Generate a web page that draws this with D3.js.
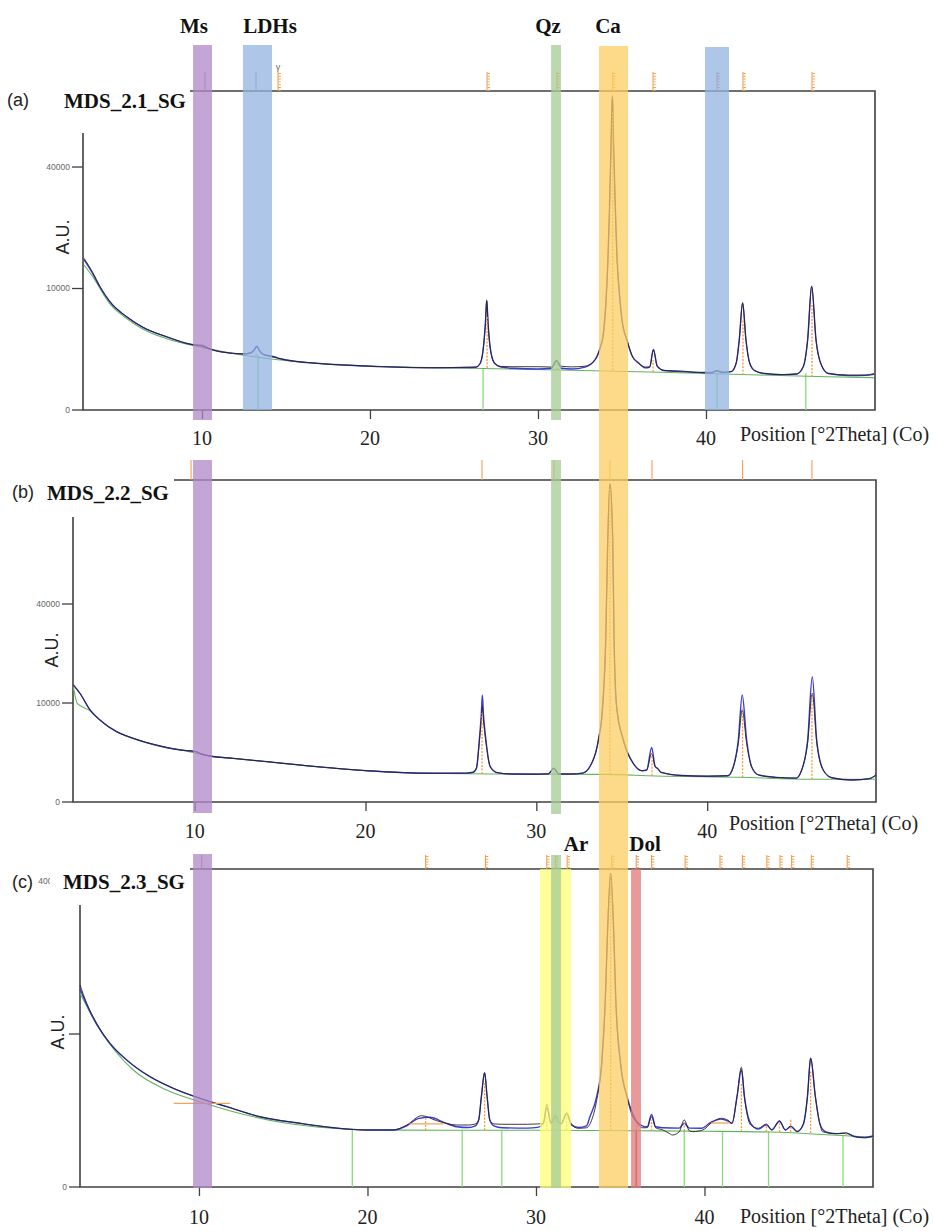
<!DOCTYPE html>
<html lang="en">
<head>
<meta charset="UTF-8">
<title>XRD patterns MDS_2.1_SG, MDS_2.2_SG, MDS_2.3_SG</title>
<script src="https://d3js.org/d3.v7.min.js"></script>
<style>
  body { margin: 0; background: #fff; }
  svg { display: block; }
</style>
</head>
<body>
<div id="chart"></div>
<script>
// ---- data: [2Theta (deg), intensity] ----
const xMajorTicks = [10, 20, 30, 40];
const yTicks = [0, 10000, 40000];
const yLabelsA = ["0", "10000", "40000"];
const yLabelsB = ["0", "10000", "40000"];
const yLabelsC = ["0", "", "40000"];

// phase windows (deg, on the common overlay)
const bandNames = ["Ar", "Ms", "LDHs", "LDHs", "Qz", "Ca", "Dol"];
const bandFrom  = [30.12, 9.47, 12.44, 39.94, 30.78, 33.63, 35.54];
const bandTo    = [31.97, 10.60, 14.17, 41.37, 31.37, 35.36, 36.13];
const labelNames = ["Ms", "LDHs", "Qz", "Ca", "Ar", "Dol"];
const labelAt    = [9.53, 14.05, 30.60, 34.17, 32.27, 36.37];

// (a) MDS_2.1_SG
const obsA = [[2.98,15600],[3.5,12800],[3.93,10350],[4.53,7950],[5.52,5900],[6.51,4630],[7.9,3640],[9.09,3010],[9.6,2850],
  [9.9,2820],[10.1,2740],[10.4,2580],[10.68,2440],[11.87,2175],[12.5,2140],[12.9,2230],[13.1,2450],[13.26,2715],[13.45,2320],
  [13.7,2060],[14.0,1970],[14.3,1880],[14.6,1790],[15.04,1690],[16.83,1475],[19.81,1311],[23.77,1213],[25.76,1237],[26.3,1250],
  [26.55,1460],[26.75,2600],[26.87,5000],[26.95,8050],[27.03,5000],[27.15,2700],[27.4,1520],[27.8,1280],[28.5,1270],[30.0,1270],
  [30.8,1250],[31.1,1648],[31.4,1300],[32.0,1260],[32.8,1300],[33.4,1700],[33.7,2600],[33.9,4000],[34.05,8000],[34.15,14000],
  [34.25,26000],[34.35,47000],[34.43,66000],[34.5,47000],[34.6,28000],[34.7,16000],[34.85,9000],[35.0,5500],[35.3,3300],
  [35.6,2000],[36.0,1450],[36.4,1250],[36.65,1260],[36.87,2440],[37.1,1300],[37.5,1060],[38.5,1030],[39.5,960],[40.3,920],
  [40.64,1030],[41.0,960],[41.5,1000],[41.8,1500],[41.98,3320],[42.18,7710],[42.38,3320],[42.6,1500],[42.9,1050],[43.5,900],
  [44.5,850],[45.4,880],[45.8,1300],[46.05,3320],[46.29,10300],[46.55,3320],[46.9,1300],[47.3,900],[48.5,830],[49.5,830],[50.0,900]];
const calcA = [[2.98,15300],[3.5,12600],[3.93,10250],[4.53,7900],[5.52,5880],[6.51,4600],[7.9,3620],[9.09,3000],[9.6,2860],
  [9.9,2840],[10.1,2780],[10.4,2560],[10.68,2430],[11.87,2170],[12.5,2120],[12.9,2200],[13.1,2420],[13.26,2760],[13.45,2330],
  [13.7,2080],[14.0,1990],[14.3,1920],[14.6,1800],[15.04,1690],[16.83,1470],[19.81,1305],[23.77,1205],[25.76,1220],[26.3,1240],
  [26.55,1450],[26.75,2650],[26.87,5100],[26.95,8200],[27.03,5100],[27.15,2700],[27.4,1500],[27.8,1250],[28.5,1180],[30.0,1140],
  [30.8,1180],[31.1,1648],[31.4,1180],[32.0,1140],[32.8,1250],[33.4,1720],[33.7,2650],[33.9,4050],[34.05,8100],[34.15,14200],
  [34.25,26500],[34.35,48000],[34.43,67000],[34.5,48000],[34.6,28500],[34.7,16200],[34.85,9100],[35.0,5500],[35.3,3300],
  [35.6,2000],[36.0,1500],[36.4,1200],[36.65,1250],[36.87,2480],[37.1,1300],[37.5,1060],[38.5,1000],[39.5,960],[40.3,950],
  [40.64,1050],[41.0,960],[41.5,1000],[41.8,1500],[41.98,3320],[42.18,7800],[42.38,3320],[42.6,1500],[42.9,1050],[43.5,900],
  [44.5,850],[45.4,880],[45.8,1300],[46.05,3320],[46.29,10400],[46.55,3320],[46.9,1300],[47.3,900],[48.5,800],[49.5,810],[50.0,860]];
const bgA = [[2.98,14240],[3.5,12040],[4.5,7710],[5.5,5690],[6.5,4410],[8.0,3390],[10.0,2660],[12.0,2125],[14.0,1785],
  [17.0,1475],[20.0,1311],[25.36,1195],[31.31,1084],[37.27,963],[43.2,830],[47.19,752],[50.0,707]];
// orange reference sticks: [deg, from, to]
const sticksA = [[13.22,2000,2300],[26.97,1195,5900],[31.13,1100,1600],[34.45,1080,60000],[36.85,975,1700],
  [42.2,830,5490],[46.31,740,7710]];
// green peak markers: [deg, intensity at top]
const markersA = [[13.34,2050],[26.73,1195],[40.66,912],[45.94,912]];
// reference lines above the frame: [deg, phase]
const refsA = [[10.18,"Ms"],[13.22,"LDH"],[14.53,"Ca"],[26.97,"Ca"],[31.13,"Qz"],[34.45,"Ca"],[36.85,"Ca"],
  [40.66,"LDH"],[42.2,"Ca"],[46.31,"Ca"]];

// (b) MDS_2.2_SG
const obsB = [[2.9,13970],[3.29,12050],[3.88,8640],[4.46,6860],[5.44,5040],[6.41,4140],[7.97,3200],[9.53,2690],[9.9,2640],
  [10.12,2560],[10.4,2350],[10.9,2160],[12.26,1945],[14.22,1660],[17.14,1275],[20.07,1000],[23.97,840],[25.9,850],[26.3,900],
  [26.5,1200],[26.66,3600],[26.78,7000],[26.84,9270],[26.9,7000],[27.05,3600],[27.3,1270],[27.7,880],[28.5,800],[30.0,790],
  [30.7,810],[31.03,1160],[31.3,800],[32.0,800],[32.7,850],[33.24,1530],[33.63,3920],[33.88,9270],[34.06,26780],[34.18,70030],
  [34.31,103000],[34.47,70030],[34.55,26780],[34.7,9270],[35.09,3920],[35.67,1530],[36.2,1000],[36.46,1045],[36.75,2420],
  [36.95,1300],[37.1,1150],[37.3,900],[38.5,720],[40.0,680],[41.2,700],[41.53,1270],[41.82,3500],[42.05,8640],[42.31,3500],
  [42.6,1270],[43.0,750],[44.0,620],[45.2,580],[45.53,1045],[45.88,3600],[46.15,12050],[46.41,3600],[46.79,1045],[47.3,600],
  [48.5,494],[49.5,560],[49.88,744]];
const calcB = [[2.9,13970],[3.29,12050],[3.88,8640],[4.46,6860],[5.44,5040],[6.41,4140],[7.97,3200],[9.53,2690],[9.9,2640],
  [10.12,2560],[10.4,2350],[10.9,2160],[12.26,1945],[14.22,1660],[17.14,1275],[20.07,1000],[23.97,840],[25.9,850],[26.3,900],
  [26.5,1200],[26.66,3920],[26.78,8000],[26.84,11680],[26.9,8000],[27.05,3920],[27.3,1270],[27.7,880],[28.5,800],[30.0,790],
  [30.7,810],[31.03,1160],[31.3,800],[32.0,800],[32.7,850],[33.24,1530],[33.63,3920],[33.88,9270],[34.06,26780],[34.18,70030],
  [34.31,103600],[34.47,70030],[34.55,26780],[34.7,9270],[35.09,3920],[35.67,1530],[36.2,1000],[36.46,1045],[36.75,3050],
  [36.95,1300],[37.1,1150],[37.3,900],[38.5,720],[40.0,680],[41.2,700],[41.53,1270],[41.82,3920],[42.05,11680],[42.31,3920],
  [42.6,1270],[43.0,750],[44.0,620],[45.2,580],[45.53,1045],[45.88,3920],[46.15,16020],[46.41,3920],[46.79,1045],[47.3,600],
  [48.5,494],[49.5,560],[49.88,744]];
const bgB = [[2.9,13560],[3.13,9940],[3.88,8500],[4.46,6800],[5.44,5000],[6.41,4100],[7.97,3180],[9.53,2640],[10.9,2150],
  [12.26,1935],[14.22,1650],[17.14,1270],[20.07,1000],[23.97,840],[28.0,800],[31.0,790],[34.0,780],[37.0,690],[42.0,622],
  [46.0,526],[49.88,526]];
const sticksB = [[26.82,800,8030],[31.03,790,1100],[34.31,780,100000],[36.77,700,2420],[42.07,622,9270],[46.13,526,12050]];
const markersB = [];
const refsB = [[9.79,"Ca"],[26.82,"Ca"],[31.03,"Qz"],[34.31,"Ca"],[36.77,"Ca"],[42.07,"Ca"],[46.13,"Ca"]];

// (c) MDS_2.3_SG
const obsC = [[2.94,17430],[3.34,14420],[3.93,11450],[4.72,8820],[5.71,6890],[7.09,5200],[8.48,4160],[10.06,3360],[11.65,2755],
  [13.62,2110],[16.0,1733],[17.97,1502],[19.95,1388],[21.53,1388],[22.33,1642],[23.22,2172],[24.11,1878],[25.3,1642],[26.0,1642],
  [26.4,1700],[26.6,1918],[26.76,3485],[26.95,5580],[27.1,3485],[27.26,1918],[27.5,1700],[28.0,1680],[29.5,1680],[30.1,1700],
  [30.44,1733],[30.64,2921],[30.89,1733],[31.0,1918],[31.15,2214],[31.3,1900],[31.5,1760],[31.82,2358],[32.1,1700],[32.5,1472],
  [33.0,1500],[33.3,1900],[33.6,3200],[33.9,6535],[34.12,15470],[34.25,28210],[34.43,42100],[34.61,28210],[34.73,15470],
  [35.02,6535],[35.4,3485],[35.7,2200],[35.95,1822],[36.3,1500],[36.6,1500],[36.86,2111],[37.1,1500],[37.5,1400],[37.9,1231],
  [38.1,1155],[38.5,1300],[38.8,1918],[39.1,1350],[39.3,1310],[39.9,1388],[40.4,1750],[40.97,2016],[41.4,1900],[41.63,1733],
  [41.93,3485],[42.19,6120],[42.37,3485],[42.74,1642],[43.2,1472],[43.67,1695],[44.0,1388],[44.45,1877],[44.8,1388],[45.12,1590],
  [45.5,1310],[45.87,1700],[46.11,3485],[46.3,7075],[46.58,3485],[46.85,1700],[47.0,1310],[47.8,1215],[48.4,1246],[48.9,1087],
  [49.5,1030],[50.0,1110]];
const calcC = [[2.94,16800],[3.34,14200],[3.93,11300],[4.72,8800],[5.71,6890],[7.09,5200],[8.48,4160],[10.06,3360],[11.65,2755],
  [13.62,2110],[16.0,1733],[17.97,1502],[19.95,1388],[21.53,1388],[22.33,1600],[23.0,2000],[23.71,2075],[24.5,1800],[25.3,1553],
  [26.0,1510],[26.4,1600],[26.6,1918],[26.76,3485],[26.95,5580],[27.1,3485],[27.26,1918],[27.5,1600],[28.0,1502],[29.5,1480],
  [30.1,1520],[30.44,1733],[30.64,2700],[30.89,1733],[31.0,1850],[31.15,2150],[31.3,1800],[31.5,1700],[31.82,2300],[32.1,1650],
  [32.5,1520],[33.0,1600],[33.2,2110],[33.6,3485],[33.9,6535],[34.12,15470],[34.25,28210],[34.43,41000],[34.61,28210],
  [34.73,15470],[35.02,6535],[35.4,3485],[35.7,2400],[35.95,1850],[36.3,1600],[36.6,1550],[36.86,2250],[37.1,1550],[37.5,1502],
  [38.5,1480],[38.8,1733],[39.1,1480],[39.8,1472],[40.4,1800],[40.97,1970],[41.4,1850],[41.63,1733],[41.93,3485],[42.19,5870],
  [42.37,3485],[42.74,1733],[43.2,1431],[43.67,1650],[44.0,1400],[44.45,1850],[44.8,1390],[45.12,1560],[45.5,1320],[45.87,1700],
  [46.11,3485],[46.3,7075],[46.58,3485],[46.85,1700],[47.2,1300],[47.8,1215],[48.4,1240],[48.9,1090],[49.5,1050],[50.0,1110]];
const bgC = [[2.94,16020],[4.13,10530],[6.1,5850],[8.08,4020],[10.06,3106],[12.04,2424],[15.0,1766],[17.97,1472],[19.95,1388],
  [25.0,1375],[30.0,1375],[36.0,1350],[40.0,1330],[44.0,1290],[47.0,1180],[50.0,1060]];
const sticksC = [[23.45,1375,2000],[26.95,1375,4590],[30.64,1375,2111],[31.15,1375,1918],[31.82,1375,2200],[34.43,1360,40250],
  [35.95,1350,1733],[36.86,1345,1918],[38.8,1340,1733],[42.19,1320,4590],[43.67,1300,1600],[44.45,1290,1733],[45.12,1280,2016],
  [46.3,1250,5825],[48.4,1150,1246]];
// broad reference peaks drawn as horizontal bars: [from, to, intensity]
const barsC = [[8.5,11.85,2990],[22.5,24.5,1700],[40.4,41.5,1750]];
const markersC = [[19.1,1388],[25.62,1375],[27.97,1375],[38.8,1340],[41.07,1330],[43.8,1300],[48.22,1150]];
const dolLineC = [[35.95,1350]];
const refsC = [[10.16,"Ms"],[23.45,"Ca"],[27.0,"Ca"],[30.64,"Ar"],[31.15,"Qz"],[31.85,"Ar"],[34.49,"Ca"],[35.95,"Dol"],
  [36.86,"Ca"],[38.85,"Ca"],[40.92,"Ca"],[42.25,"Ca"],[43.7,"Ca"],[44.48,"Ca"],[45.17,"Ca"],[46.34,"Ca"],[48.47,"Ca"]];

// ---- styles ----
const serif = "'Liberation Serif', 'DejaVu Serif', serif";
const sans = "'Liberation Sans', Arial, sans-serif";
const bandColor = { Ms: "#af87c8", LDHs: "#93b3e0", Qz: "#a6cb96", Ca: "#fccc63", Ar: "#ffff77", Dol: "#e07878" };
const refColor = { Ms: "#c98266", LDH: "#c08a70", Dol: "#e79a5a" };
const frameColor = "#404040";

const panels = [
  { tag: "(a)", title: "MDS_2.1_SG", left: 83, right: 875, top: 91, bottom: 410, axisTop: 133, lineStart: 190,
    xDomain: [2.92, 50.06], yMax: 68950, tickLabelY: 445, posX: 740, posY: 441, tagX: 7, tagY: 106,
    titleX: 64, titleY: 108, refTop: 72, auX: 63, auY: 237, hatch: true,
    obs: obsA, calc: calcA, bg: bgA, sticks: sticksA, bars: [], markers: markersA, dark: [], refs: refsA, yLabels: yLabelsA },
  { tag: "(b)", title: "MDS_2.2_SG", left: 73, right: 876, top: 480, bottom: 802, axisTop: 517, lineStart: 174,
    xDomain: [2.88, 49.88], yMax: 105800, tickLabelY: 838, posX: 729, posY: 830, tagX: 12, tagY: 498,
    titleX: 47, titleY: 500, refTop: 460, auX: 52, auY: 650, hatch: false,
    obs: obsB, calc: calcB, bg: bgB, sticks: sticksB, bars: [], markers: markersB, dark: [], refs: refsB, yLabels: yLabelsB },
  { tag: "(c)", title: "MDS_2.3_SG", left: 80, right: 873, top: 869, bottom: 1187, axisTop: 905, lineStart: 190,
    xDomain: [2.94, 50.0], yMax: 43200, tickLabelY: 1224, posX: 740, posY: 1223, tagX: 12, tagY: 888,
    titleX: 63, titleY: 889, refTop: 855, auX: 58, auY: 1032, hatch: true,
    obs: obsC, calc: calcC, bg: bgC, sticks: sticksC, bars: barsC, markers: markersC, dark: dolLineC, refs: refsC, yLabels: yLabelsC }
];

// vertical extent of each phase window in every panel (page layout)
const bandSpans = {
  Ms: [[45, 420], [460, 813], [854, 1188]],
  LDHs: [[45, 410]],
  LDHs2: [[47, 410]],
  Qz: [[45, 420], [460, 814], [855, 1188]],
  Ca: [[46, 1188]],
  Ar: [[869, 1188]],
  Dol: [[869, 1188]]
};

const svg = d3.select("#chart").append("svg")
  .attr("width", 934).attr("height", 1231)
  .style("background", "#fff");

// the sample name box hides most of the top y label in (c)
svg.append("defs").append("clipPath").attr("id", "nameclip")
  .append("rect").attr("x", 0).attr("y", 0).attr("width", 50).attr("height", 1231);

const scales = [];

panels.forEach(p => {
  const x = d3.scaleLinear().domain(p.xDomain).range([p.left, p.right]);
  const y = d3.scaleSqrt().domain([0, p.yMax]).range([p.bottom, p.top]);
  scales.push(x);
  const g = svg.append("g");

  // frame
  g.append("path")
    .attr("d", `M${p.lineStart},${p.top}H${p.right}V${p.bottom}H${p.left}V${p.axisTop}`)
    .attr("fill", "none").attr("stroke", frameColor).attr("stroke-width", 1.6);

  // x ticks
  const minor = d3.range(Math.ceil(p.xDomain[0]), Math.floor(p.xDomain[1]) + 1)
    .filter(v => !xMajorTicks.includes(v));
  const gx = g.append("g").attr("transform", `translate(0,${p.bottom})`);
  gx.call(d3.axisBottom(x).tickValues(minor).tickSize(5).tickFormat(""));
  gx.call(d3.axisBottom(x).tickValues(xMajorTicks).tickSize(9).tickFormat(""));
  gx.selectAll(".domain").remove();
  gx.selectAll(".tick line").attr("stroke", frameColor).attr("stroke-width", 1.3);

  g.selectAll(".xlab").data(xMajorTicks).join("text")
    .attr("x", d => x(d)).attr("y", p.tickLabelY)
    .attr("text-anchor", "middle")
    .attr("font-family", serif).attr("font-size", 20).attr("fill", "#222")
    .text(d => d);

  g.append("text")
    .attr("x", p.posX).attr("y", p.posY)
    .attr("font-family", serif).attr("font-size", 20).attr("fill", "#222")
    .text("Position [°2Theta] (Co)");

  // y ticks
  yTicks.forEach((v, i) => {
    const yy = y(v);
    const inside = yy >= p.axisTop;
    if (inside) {
      g.append("line").attr("x1", p.left - 11).attr("x2", p.left)
        .attr("y1", yy).attr("y2", yy)
        .attr("stroke", frameColor).attr("stroke-width", 1.3);
    }
    if (p.yLabels[i]) {
      g.append("text").attr("x", inside ? p.left - 13 : p.titleX - 1).attr("y", yy)
        .attr("dy", "0.35em").attr("text-anchor", "end")
        .attr("clip-path", inside ? null : "url(#nameclip)")
        .attr("font-family", sans).attr("font-size", 8.5).attr("fill", "#666")
        .text(p.yLabels[i]);
    }
  });

  g.append("text")
    .attr("transform", `translate(${p.auX},${p.auY}) rotate(-90)`)
    .attr("text-anchor", "middle").attr("dominant-baseline", "central")
    .attr("font-family", sans).attr("font-size", 18).attr("fill", "#222")
    .text("A.U.");

  // green peak markers
  g.selectAll(".mk").data(p.markers).join("line")
    .attr("x1", d => x(d[0])).attr("x2", d => x(d[0]))
    .attr("y1", d => y(d[1])).attr("y2", p.bottom)
    .attr("stroke", "#86dd78").attr("stroke-width", 1.3);
  g.selectAll(".dk").data(p.dark).join("line")
    .attr("x1", d => x(d[0])).attr("x2", d => x(d[0]))
    .attr("y1", d => y(d[1])).attr("y2", p.bottom)
    .attr("stroke", "#8a4a3c").attr("stroke-width", 1.3);

  // curves: background, calculated profile, measured scan
  const line = d3.line().x(d => x(d[0])).y(d => y(d[1])).curve(d3.curveMonotoneX);
  g.append("path").datum(p.bg).attr("d", line)
    .attr("fill", "none").attr("stroke", "#5fb55a").attr("stroke-width", 1.1);
  g.append("path").datum(p.calc).attr("d", line)
    .attr("fill", "none").attr("stroke", "#3a3ad8").attr("stroke-width", 1.4);
  g.append("path").datum(p.obs).attr("d", line)
    .attr("fill", "none").attr("stroke", "#2a2320").attr("stroke-width", 0.9);

  // reference sticks
  g.selectAll(".st").data(p.sticks).join("line")
    .attr("x1", d => x(d[0])).attr("x2", d => x(d[0]))
    .attr("y1", d => y(d[1])).attr("y2", d => y(d[2]))
    .attr("stroke", "#f39a3a").attr("stroke-width", 1.3)
    .attr("stroke-dasharray", "2,1.5");
  g.selectAll(".br").data(p.bars).join("line")
    .attr("x1", d => x(d[0])).attr("x2", d => x(d[1]))
    .attr("y1", d => y(d[2])).attr("y2", d => y(d[2]))
    .attr("stroke", "#f3a454").attr("stroke-width", 1.3);

  // reference lines above the frame
  const refs = g.selectAll(".rf").data(p.refs).join("g");
  refs.append("line")
    .attr("x1", d => x(d[0])).attr("x2", d => x(d[0]))
    .attr("y1", p.refTop).attr("y2", p.top)
    .attr("stroke", d => refColor[d[1]] || "#f2a04c").attr("stroke-width", 1.1);
  if (p.hatch) {
    refs.filter(d => d[1] !== "Ms" && !(d[1] === "LDH" && d[0] < 14))
      .append("line")
      .attr("x1", d => x(d[0]) + 1.6).attr("x2", d => x(d[0]) + 1.6)
      .attr("y1", p.refTop + 1).attr("y2", p.top)
      .attr("stroke", d => refColor[d[1]] || "#f2a04c").attr("stroke-width", 2.4)
      .attr("stroke-dasharray", "0.9,1.9");
  }

  // sample tag and name
  g.append("rect").attr("x", p.titleX - 12).attr("y", p.titleY - 17)
    .attr("width", p.lineStart - p.titleX + 10).attr("height", 26).attr("fill", "#fff");
  g.append("text").attr("x", p.tagX).attr("y", p.tagY)
    .attr("font-family", sans).attr("font-size", 18).attr("fill", "#222")
    .text(p.tag);
  g.append("text").attr("x", p.titleX).attr("y", p.titleY)
    .attr("font-family", serif).attr("font-weight", "bold").attr("font-size", 21).attr("fill", "#111")
    .text(p.title);
});

// small gamma mark above the 14.5 deg reference line of (a)
svg.append("text")
  .attr("x", scales[0](14.53)).attr("y", 70)
  .attr("text-anchor", "middle")
  .attr("font-family", sans).attr("font-size", 9).attr("fill", "#666")
  .text("γ");

// phase windows across the panels
const xo = scales[0];
const bandG = svg.append("g").attr("fill-opacity", 0.75);
let ldhCount = 0;
bandNames.forEach((name, i) => {
  let key = name;
  if (name === "LDHs") { key = ldhCount === 0 ? "LDHs" : "LDHs2"; ldhCount++; }
  bandSpans[key].forEach(s => {
    bandG.append("rect")
      .attr("x", xo(bandFrom[i])).attr("width", xo(bandTo[i]) - xo(bandFrom[i]))
      .attr("y", s[0]).attr("height", s[1] - s[0])
      .attr("fill", bandColor[name]);
  });
});

svg.selectAll(".bl").data(labelNames).join("text")
  .attr("x", (d, i) => xo(labelAt[i]))
  .attr("y", d => (d === "Ar" || d === "Dol") ? 851 : 33)
  .attr("text-anchor", "middle")
  .attr("font-family", serif).attr("font-weight", "bold").attr("font-size", 21).attr("fill", "#111")
  .text(d => d);
</script>
</body>
</html>
